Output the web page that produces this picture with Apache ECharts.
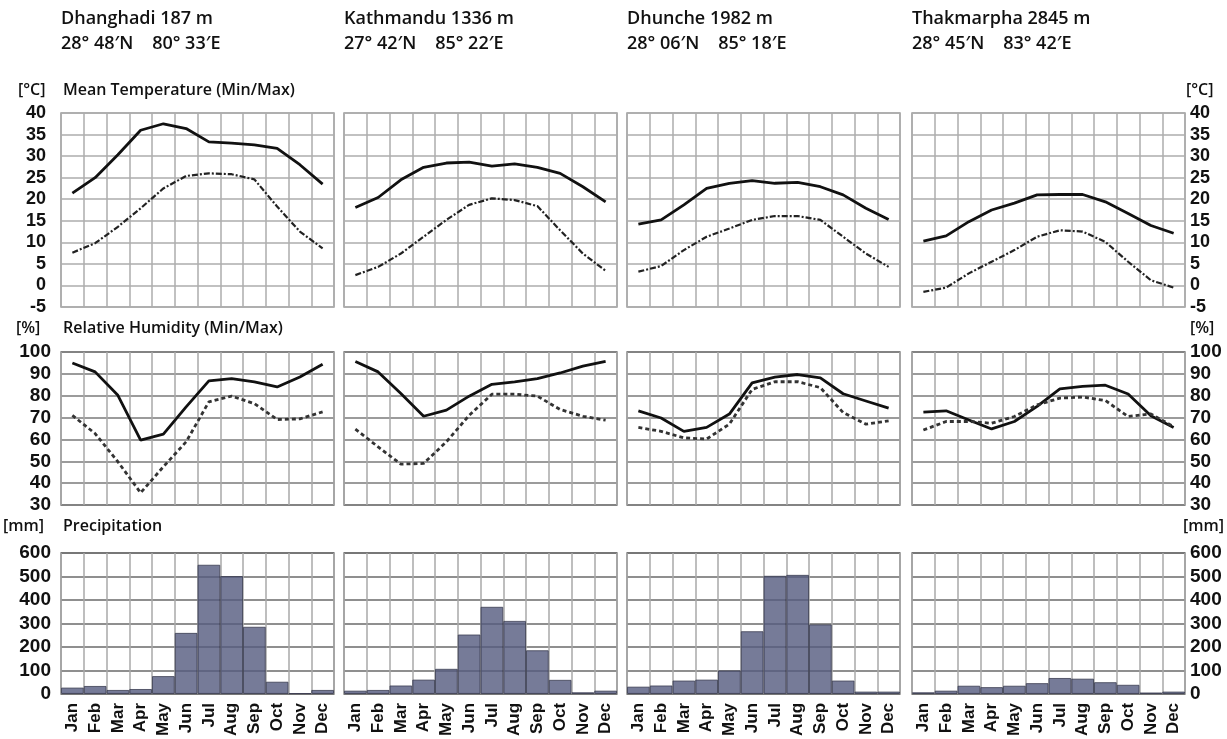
<!DOCTYPE html>
<html>
<head>
<meta charset="utf-8">
<script src="https://cdn.jsdelivr.net/npm/echarts@6/dist/echarts.min.js"></script>
<style>
html,body{margin:0;padding:0;background:#fff;}
#chart{width:1227px;height:739px;}
</style>
</head>
<body>
<div id="chart"></div>
<script>
// ---------- DATA ----------
const months = ['Jan','Feb','Mar','Apr','May','Jun','Jul','Aug','Sep','Oct','Nov','Dec'];
const stationNames = ['Dhanghadi 187 m','Kathmandu 1336 m','Dhunche 1982 m','Thakmarpha 2845 m'];
const stationCoords = ['28° 48′N    80° 33′E','27° 42′N    85° 22′E','28° 06′N    85° 18′E','28° 45′N    83° 42′E'];

const tempTicks = [-5, 40, 5];      // min, max, step
const humTicks = [30, 100, 10];
const precTicks = [0, 600, 100];

// Mean temperature max / min [°C]
const tMaxDhanghadi = [21.4, 25.0, 30.3, 36.0, 37.5, 36.4, 33.3, 33.0, 32.6, 31.8, 28.0, 23.5];
const tMinDhanghadi = [7.6, 9.8, 13.6, 17.9, 22.5, 25.4, 26.0, 25.8, 24.6, 18.3, 12.5, 8.6];
const tMaxKathmandu = [18.1, 20.4, 24.5, 27.4, 28.4, 28.6, 27.7, 28.2, 27.4, 26.0, 22.9, 19.4];
const tMinKathmandu = [2.4, 4.3, 7.4, 11.3, 15.2, 18.7, 20.2, 19.8, 18.4, 12.8, 7.4, 3.4];
const tMaxDhunche = [14.2, 15.2, 18.7, 22.5, 23.7, 24.3, 23.7, 23.9, 22.9, 21.0, 17.9, 15.3];
const tMinDhunche = [3.2, 4.5, 8.2, 11.3, 13.2, 15.2, 16.1, 16.1, 15.2, 11.3, 7.4, 4.3];
const tMaxThakmarpha = [10.3, 11.5, 14.8, 17.5, 19.1, 21.0, 21.1, 21.1, 19.4, 16.7, 13.9, 12.1];
const tMinThakmarpha = [-1.5, -0.5, 2.8, 5.5, 8.2, 11.3, 12.8, 12.5, 10.1, 5.5, 1.2, -0.5];

// Relative humidity max / min [%]
const hMaxDhanghadi = [95.0, 90.9, 80.2, 59.7, 62.4, 74.9, 86.8, 87.8, 86.3, 84.0, 88.6, 94.4];
const hMinDhanghadi = [71.0, 62.7, 49.8, 35.6, 47.5, 58.9, 77.2, 79.8, 76.4, 69.1, 69.4, 72.6];
const hMaxKathmandu = [95.7, 90.9, 81.0, 70.6, 73.4, 79.8, 85.2, 86.3, 87.8, 90.4, 93.5, 95.7];
const hMinKathmandu = [64.7, 56.6, 48.7, 49.0, 58.9, 71.0, 80.7, 80.7, 79.8, 73.7, 70.6, 68.8];
const hMaxDhunche = [73.1, 69.8, 63.7, 65.5, 71.6, 85.9, 88.5, 89.7, 88.2, 80.9, 77.6, 74.3];
const hMinDhunche = [65.5, 63.7, 60.7, 60.2, 67.0, 82.9, 86.4, 86.4, 83.7, 72.3, 67.0, 68.5];
const hMaxThakmarpha = [72.5, 73.1, 68.9, 64.8, 68.2, 75.1, 83.1, 84.3, 84.8, 80.8, 70.8, 65.5];
const hMinThakmarpha = [64.3, 68.2, 68.2, 67.4, 70.5, 75.8, 78.9, 79.4, 77.8, 70.5, 71.7, 65.8];

// Precipitation [mm]
const pDhanghadi = [27, 34, 17, 21, 76, 260, 550, 502, 286, 52, 3, 17];
const pKathmandu = [14, 17, 36, 61, 107, 253, 371, 311, 186, 60, 7, 14];
const pDhunche = [31, 36, 57, 61, 100, 267, 503, 507, 296, 57, 10, 10];
const pThakmarpha = [7, 14, 35, 29, 35, 46, 68, 65, 50, 39, 6, 10];

const tempMax = [tMaxDhanghadi, tMaxKathmandu, tMaxDhunche, tMaxThakmarpha];
const tempMin = [tMinDhanghadi, tMinKathmandu, tMinDhunche, tMinThakmarpha];
const humMax = [hMaxDhanghadi, hMaxKathmandu, hMaxDhunche, hMaxThakmarpha];
const humMin = [hMinDhanghadi, hMinKathmandu, hMinDhunche, hMinThakmarpha];
const precip = [pDhanghadi, pKathmandu, pDhunche, pThakmarpha];

// ---------- LAYOUT ----------
const colLeft = [61, 344, 627, 912];
const colWidth = 273;
const rows = [
  {top: 113, height: 194, ticks: tempTicks},
  {top: 352, height: 153, ticks: humTicks},
  {top: 553, height: 141, ticks: precTicks}
];

const numFont = 'Liberation Sans, Arial, sans-serif';
const textFont = 'Open Sans, Noto Sans, sans-serif';

const grids = [], xAxes = [], yAxes = [], series = [];
let gi = 0;
rows.forEach((r, ri) => {
  colLeft.forEach((cl, ci) => {
    const hLine = ri === 0 ? '#adadad' : (ri === 1 ? '#7a7a7a' : '#6a6a6a');
    const vLine = ri === 0 ? '#adadad' : '#a8a8a8';
    grids.push({left: cl, top: r.top, width: colWidth, height: r.height,
      show: true, borderColor: ri === 0 ? '#a0a0a0' : '#808080', borderWidth: 1.5, backgroundColor: '#fff'});
    xAxes.push({
      type: 'category', gridIndex: gi, data: months, boundaryGap: true,
      axisLine: {show: false}, axisTick: {show: false},
      axisLabel: {show: ri === 2, rotate: 90, margin: 9, fontFamily: numFont, fontWeight: 'bold', fontSize: 17, color: '#111'},
      splitLine: {show: true, interval: 0, lineStyle: {color: vLine, width: 1.5}}
    });
    const showLab = ci === 0 || ci === 3;
    yAxes.push({
      type: 'value', gridIndex: gi, min: r.ticks[0], max: r.ticks[1], interval: r.ticks[2],
      position: ci === 3 ? 'right' : 'left',
      axisLine: {show: false}, axisTick: {show: false},
      axisLabel: {show: showLab, margin: ci === 3 ? 5 : (ri === 0 ? 15 : 10), fontFamily: numFont, fontWeight: 'bold', fontSize: ri === 0 ? 18 : 19, color: '#111'},
      splitLine: {show: true, lineStyle: {color: hLine, width: 1.5}}
    });
    if (ri === 0) {
      series.push({type: 'line', xAxisIndex: gi, yAxisIndex: gi, data: tempMax[ci], symbol: 'none',
        lineStyle: {color: '#111', width: 2.8}, z: 3});
      series.push({type: 'line', xAxisIndex: gi, yAxisIndex: gi, data: tempMin[ci], symbol: 'none',
        lineStyle: {color: '#222', width: 2.2, type: [6, 2, 2, 2]}, z: 3});
    } else if (ri === 1) {
      series.push({type: 'line', xAxisIndex: gi, yAxisIndex: gi, data: humMax[ci], symbol: 'none',
        lineStyle: {color: '#111', width: 2.8}, z: 3});
      series.push({type: 'line', xAxisIndex: gi, yAxisIndex: gi, data: humMin[ci], symbol: 'none',
        lineStyle: {color: '#333', width: 2.8, type: [4, 3]}, z: 3});
    } else {
      series.push({type: 'bar', xAxisIndex: gi, yAxisIndex: gi, data: precip[ci], barCategoryGap: '0%',
        itemStyle: {color: 'rgb(84,90,126)', opacity: 0.8, borderColor: '#3c3f52', borderWidth: 1}, z: 2});
    }
    gi++;
  });
});

// ---------- TEXT ----------
const graphics = [];
colLeft.forEach((cl, ci) => {
  graphics.push({type: 'text', left: cl, top: 10, style: {text: stationNames[ci], font: '600 18px ' + textFont, fill: '#111'}});
  graphics.push({type: 'text', left: cl, top: 35, style: {text: stationCoords[ci], font: '600 18px ' + textFont, fill: '#111'}});
});
const sectionTitles = [
  {unit: '[°C]', title: 'Mean Temperature (Min/Max)', y: 82, ux: 18, rux: 1186},
  {unit: '[%]', title: 'Relative Humidity (Min/Max)', y: 320, ux: 16, rux: 1190},
  {unit: '[mm]', title: 'Precipitation', y: 518, ux: 3, rux: 1183}
];
sectionTitles.forEach(s => {
  graphics.push({type: 'text', left: s.ux, top: s.y, style: {text: s.unit, font: '600 16px ' + textFont, fill: '#111'}});
  graphics.push({type: 'text', left: 63, top: s.y, style: {text: s.title, font: '600 16px ' + textFont, fill: '#111'}});
  graphics.push({type: 'text', left: s.rux, top: s.y, style: {text: s.unit, font: '600 16px ' + textFont, fill: '#111'}});
});

const chart = echarts.init(document.getElementById('chart'), null, {renderer: 'canvas'});
chart.setOption({
  animation: false,
  backgroundColor: '#fff',
  grid: grids, xAxis: xAxes, yAxis: yAxes, series: series,
  graphic: graphics
});
</script>
</body>
</html>
